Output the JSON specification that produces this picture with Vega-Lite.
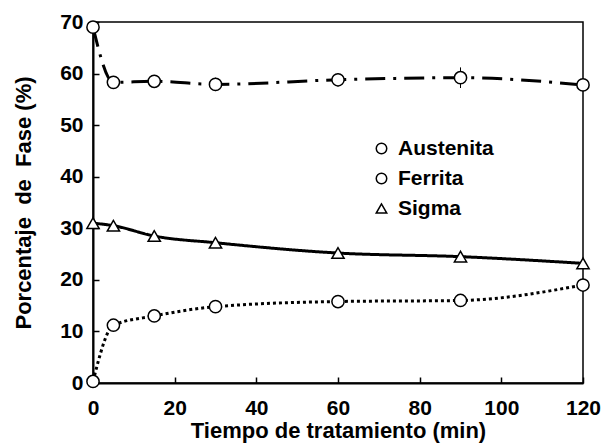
{
  "$schema": "https://vega.github.io/schema/vega-lite/v6.json",
  "width": 490,
  "height": 361,
  "autosize": {"type": "none"},
  "padding": {"left": 93, "top": 22, "right": 18, "bottom": 61},
  "background": "white",
  "config": {
    "font": "Liberation Sans",
    "view": {"stroke": "black", "strokeWidth": 1.5},
    "axis": {
      "domainColor": "black", "domainWidth": 2, "tickColor": "black", "tickWidth": 1.5,
      "labelFont": "Liberation Sans", "labelFontWeight": "bold", "labelFontSize": 21, "labelColor": "black",
      "titleFont": "Liberation Sans", "titleFontWeight": "bold", "titleFontSize": 22, "titleColor": "black",
      "grid": false, "labelFlush": false
    },
    "legend": {
      "orient": "none", "legendX": 278, "legendY": 116,
      "labelFont": "Liberation Sans", "labelFontWeight": "bold", "labelFontSize": 21, "labelColor": "black",
      "symbolSize": 110, "symbolStrokeWidth": 1.5, "rowPadding": 8, "labelOffset": 6
    }
  },
  "data": {"values": [
    {"t": 0, "v": 69.0, "lo": 69.0, "hi": 69.0, "fase": "Austenita"},
    {"t": 5, "v": 58.3, "lo": 57.3, "hi": 59.3, "fase": "Austenita"},
    {"t": 15, "v": 58.5, "lo": 57.3, "hi": 59.7, "fase": "Austenita"},
    {"t": 30, "v": 57.9, "lo": 56.6, "hi": 59.2, "fase": "Austenita"},
    {"t": 60, "v": 58.8, "lo": 57.5, "hi": 60.1, "fase": "Austenita"},
    {"t": 90, "v": 59.2, "lo": 57.2, "hi": 61.2, "fase": "Austenita"},
    {"t": 120, "v": 57.8, "lo": 57.2, "hi": 58.4, "fase": "Austenita"},
    {"t": 0, "v": 0.3, "lo": 0.3, "hi": 0.3, "fase": "Ferrita"},
    {"t": 5, "v": 11.2, "lo": 10.2, "hi": 12.2, "fase": "Ferrita"},
    {"t": 15, "v": 13.0, "lo": 12.3, "hi": 13.7, "fase": "Ferrita"},
    {"t": 30, "v": 14.8, "lo": 13.8, "hi": 15.8, "fase": "Ferrita"},
    {"t": 60, "v": 15.8, "lo": 14.8, "hi": 16.8, "fase": "Ferrita"},
    {"t": 90, "v": 16.0, "lo": 14.8, "hi": 17.2, "fase": "Ferrita"},
    {"t": 120, "v": 19.0, "lo": 17.8, "hi": 20.2, "fase": "Ferrita"},
    {"t": 0, "v": 31.0, "lo": 30.5, "hi": 31.5, "fase": "Sigma"},
    {"t": 5, "v": 30.5, "lo": 29.8, "hi": 31.5, "fase": "Sigma"},
    {"t": 15, "v": 28.5, "lo": 28.0, "hi": 29.0, "fase": "Sigma"},
    {"t": 30, "v": 27.2, "lo": 26.7, "hi": 27.7, "fase": "Sigma"},
    {"t": 60, "v": 25.2, "lo": 24.7, "hi": 25.7, "fase": "Sigma"},
    {"t": 90, "v": 24.5, "lo": 24.0, "hi": 25.0, "fase": "Sigma"},
    {"t": 120, "v": 23.2, "lo": 22.2, "hi": 24.2, "fase": "Sigma"}
  ]},
  "encoding": {
    "x": {"field": "t", "type": "quantitative",
      "scale": {"domain": [0, 120], "nice": false},
      "axis": {"values": [0, 20, 40, 60, 80, 100, 120], "tickSize": -6, "labelPadding": 20, "title": "Tiempo de tratamiento (min)", "titlePadding": 2}},
    "y": {"type": "quantitative",
      "scale": {"domain": [0, 70], "nice": false},
      "axis": {"values": [0, 10, 20, 30, 40, 50, 60, 70], "tickSize": -6, "labelPadding": 16, "title": "Porcentaje\u00a0 de\u00a0 Fase (%)", "titlePadding": 24}}
  },
  "layer": [
    {
      "mark": {"type": "rule", "color": "black", "strokeWidth": 1},
      "encoding": {"y": {"field": "lo", "type": "quantitative"}, "y2": {"field": "hi"}}
    },
    {
      "mark": {"type": "line", "color": "black", "strokeWidth": 3, "interpolate": "monotone"},
      "encoding": {
        "y": {"field": "v", "type": "quantitative"},
        "strokeDash": {"field": "fase", "type": "nominal", "title": null,
          "scale": {"domain": ["Austenita", "Ferrita", "Sigma"], "range": [[20, 8, 3, 8], [3, 3], [1, 0]]},
          "legend": null}
      }
    },
    {
      "mark": {"type": "point", "filled": false, "fill": "white", "strokeWidth": 1.5, "size": 150, "opacity": 1},
      "encoding": {
        "y": {"field": "v", "type": "quantitative"},
        "color": {"field": "fase", "type": "nominal", "title": null,
          "scale": {"domain": ["Austenita", "Ferrita", "Sigma"], "range": ["black", "black", "black"]}},
        "shape": {"field": "fase", "type": "nominal", "title": null,
          "scale": {"domain": ["Austenita", "Ferrita", "Sigma"], "range": ["circle", "circle", "triangle-up"]}}
      }
    }
  ],
  "resolve": {"legend": {"strokeDash": "independent"}}
}
